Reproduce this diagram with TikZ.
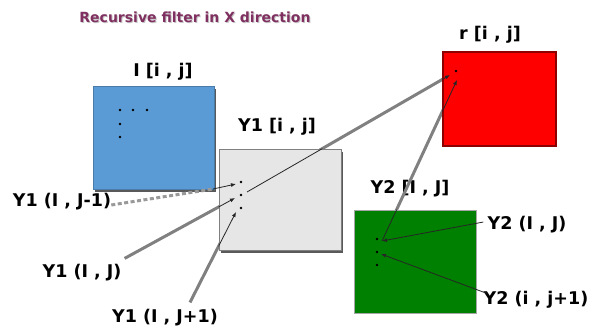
\documentclass[tikz,border=0pt]{standalone}
\usepackage{fontspec}
\setmainfont{DejaVu Sans}
\usetikzlibrary{arrows.meta,shadows}
\definecolor{planeblue}{RGB}{91,155,213}
\definecolor{planegray}{RGB}{230,230,230}
\definecolor{planegreen}{RGB}{0,128,0}
\definecolor{planered}{RGB}{255,0,0}
\definecolor{titlecol}{RGB}{128,48,96}
\begin{document}
\begin{tikzpicture}[x=1pt, y=-1pt,
  every node/.style = {font=\fontsize{17.5}{18}\selectfont\bfseries, inner sep=0pt},
  plane/.style = {rectangle, draw=gray, line width=1pt},
  shade/.style = {drop shadow={shadow xshift=1.5pt, shadow yshift=-2.5pt,
    fill=gray!70!black, opacity=1}},
  dot/.style = {circle, fill=black, minimum size=2.8pt},
  thick link/.style = {draw=gray, line width=3pt},
  dash link/.style = {draw=gray!80, line width=3pt, dash pattern=on 4pt off 2.5pt},
  thin link/.style = {draw=black!85, line width=0.8pt,
    -{Latex[length=5pt,width=4pt]}}]
  \useasboundingbox (0,0) rectangle (594,335);

  \node[text=gray!45, font=\fontsize{14}{14}\selectfont\bfseries] (titleshadow)
    at (196,18) {Recursive filter in X direction};
  \node[text=titlecol, font=\fontsize{14}{14}\selectfont\bfseries] (title)
    at (195,17) {Recursive filter in X direction};

  \node (Ilab)   at (163,72)  {I [i , j]};
  \node (Y1lab)  at (277,127) {Y1 [i , j]};
  \node (rlab)   at (490,35)  {r [i , j]};
  \node (Y2lab)  at (410,189) {Y2 [I , J]};
  \node (ym1)    at (62,202)  {Y1 (I , J-1)};
  \node (yj)     at (82,273)  {Y1 (I , J)};
  \node (yjp)    at (165,318) {Y1 (I , J+1)};
  \node (ytwoj)  at (527,225) {Y2 (I , J)};
  \node (ytwojp) at (536,300) {Y2 (i , j+1)};

  \coordinate (bcorner) at (213,189);
  \coordinate (t1) at (236,184);
  \coordinate (t2) at (235,198);
  \coordinate (t3) at (236,212);
  \coordinate (s2) at (247,192);
  \coordinate (r1) at (450,75);
  \coordinate (r2) at (457,80);
  \coordinate (g1) at (382,241);
  \coordinate (g2) at (381,254);

  \draw[thick link] ([shift={(3pt,6pt)}]yj.north east) -- (t2);
  \draw[thick link] ([shift={(25pt,7pt)}]yjp.north) -- (t3);
  \draw[thick link] (s2) -- (r1);
  \draw[thick link] (g1) -- (r2);

  \node[plane, shade, fill=planeblue, draw=planeblue!80!black,
    minimum width=121pt, minimum height=103pt] (Iplane) at (153.5,137.5) {};
  \node[plane, shade, fill=planegray, minimum width=122pt, minimum height=101pt]
    (Y1plane) at (280,199.5) {};
  \node[plane, fill=planered, draw=red!55!black, line width=1.2pt,
    minimum width=113pt, minimum height=94pt] (rplane) at (499.5,99) {};
  \node[plane, fill=planegreen, draw=gray!70, minimum width=122pt,
    minimum height=103pt] (Y2plane) at (415,261.5) {};

  \foreach \name/\pos in {i1/{(120,110)}, i2/{(133,110)}, i3/{(147,110)},
      i4/{(120,124)}, i5/{(120,137)}, y1/{(241,182)}, y2/{(241,195)},
      y3/{(241,208)}, rd/{(456,71)}, n1/{(377,239)}, n2/{(377,252)},
      n3/{(377,265)}}
    \node[dot] (\name) at \pos {};

  \draw[dash link] ([yshift=-3pt]ym1.east) -- (bcorner);
  \draw[thin link] (bcorner) -- (t1);
  \begin{scope}
    \clip (Y1plane.north west) rectangle (Y1plane.south east)
          (rplane.north west) rectangle (rplane.south east)
          (Y2plane.north west) rectangle (Y2plane.south east);
    \draw[thin link] ([shift={(3pt,6pt)}]yj.north east) -- (t2);
    \draw[thin link] ([shift={(25pt,7pt)}]yjp.north) -- (t3);
    \draw[thin link] (s2) -- (r1);
    \draw[thin link] (g1) -- (r2);
  \end{scope}
  \draw[thin link] ([xshift=-4pt,yshift=3pt]ytwoj.west) -- (g1);
  \draw[thin link] ([xshift=3pt,yshift=-2pt]ytwojp.north west) -- (g2);
\end{tikzpicture}
\end{document}
